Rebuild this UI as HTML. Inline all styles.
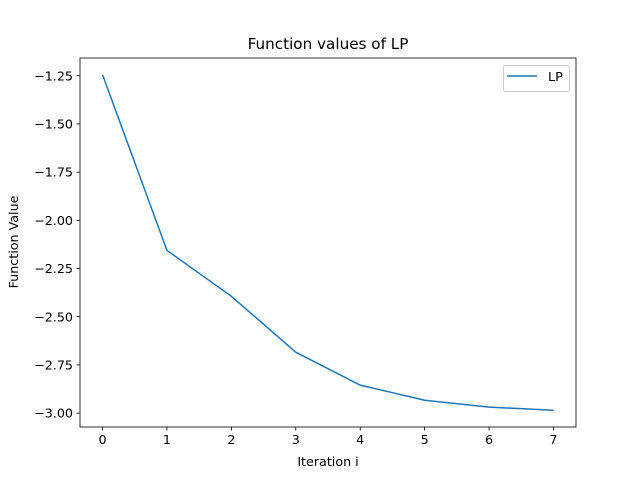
<!DOCTYPE html>
<html><head><meta charset="utf-8"><style>
body{margin:0;background:#fff}
svg text{font-family:"DejaVu Sans","Liberation Sans",sans-serif;fill:#000}
</style></head><body>
<svg width="640" height="480" xmlns="http://www.w3.org/2000/svg">
<rect width="640" height="480" fill="#fff"/>
<text x="328" y="49" font-size="15.2" text-anchor="middle">Function values of LP</text>
<g id="axes"></g>
<polyline id="line" fill="none" stroke="#1f77b4" stroke-width="1.5"/>
<rect x="80" y="58" width="496" height="369" fill="none" stroke="#000" stroke-width="0.8"/>
<g>
<rect x="503.5" y="65.5" width="66" height="26" rx="2" fill="#fff" stroke="#ccc" stroke-width="1"/>
<line x1="507" y1="76" x2="537" y2="76" stroke="#1f77b4" stroke-width="1.5"/>
<text x="548" y="81" font-size="12.7">LP</text>
</g>
<text x="328" y="466" font-size="12.7" text-anchor="middle">Iteration i</text>
<text x="18" y="242" font-size="12.7" text-anchor="middle" transform="rotate(-90 18 242)">Function Value</text>
</svg>
<script>
const iterations=[0,1,2,3,4,5,6,7];
const values=[-1.245,-2.156,-2.394,-2.684,-2.855,-2.933,-2.969,-2.985];
const xTicks=[0,1,2,3,4,5,6,7];
const yTicks=[-1.25,-1.5,-1.75,-2.0,-2.25,-2.5,-2.75,-3.0];
const yTickLabels=["\u22121.25","\u22121.50","\u22121.75","\u22122.00","\u22122.25","\u22122.50","\u22122.75","\u22123.00"];
const L=80,R=576,T=58,B=427;
const xmin=-0.35,xmax=7.35;
const ymn=Math.min(...values),ymx=Math.max(...values),m=(ymx-ymn)*0.05;
const ymin=ymn-m,ymax=ymx+m;
const xs=v=>L+(v-xmin)/(xmax-xmin)*(R-L);
const ys=v=>B-(v-ymin)/(ymax-ymin)*(B-T);
const NS="http://www.w3.org/2000/svg";
const g=document.getElementById('axes');
function mk(t,a){const e=document.createElementNS(NS,t);for(const k in a)e.setAttribute(k,a[k]);g.appendChild(e);return e;}
xTicks.forEach(v=>{
 const x=xs(v);
 const l=mk('line',{x1:x,x2:x,y1:B,y2:B+3.5,stroke:'#000','stroke-width':0.8});
 
 
 const t=mk('text',{x:x,y:B+17,'font-size':12.7,'text-anchor':'middle'});t.textContent=v;
 
 
});
yTicks.forEach((v,i)=>{
 const y=ys(v);
 const l=mk('line',{x1:L-3.5,x2:L,y1:y,y2:y,stroke:'#000','stroke-width':0.8});
 
 
 const t=mk('text',{x:L-7,y:y+4.6,'font-size':12.7,'text-anchor':'end'});t.textContent=yTickLabels[i];
 
 
});
document.getElementById('line').setAttribute('points',iterations.map((x,i)=>xs(x)+','+ys(values[i])).join(' '));
</script>
</body></html>
